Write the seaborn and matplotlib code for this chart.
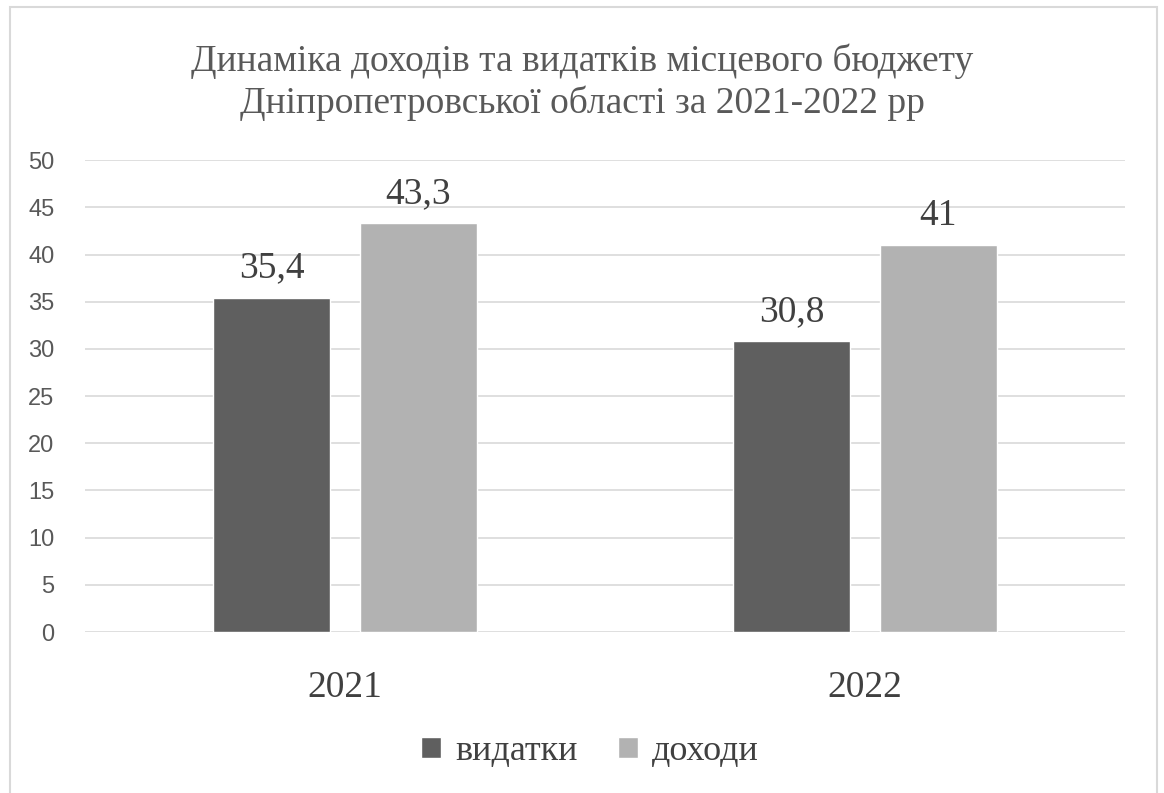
import numpy as np
import pandas as pd
import matplotlib
matplotlib.use("Agg")
import matplotlib.pyplot as plt
import seaborn as sns
from matplotlib.patches import Rectangle

# data
years = ["2021", "2022"]
vydatky = [35.4, 30.8]
dokhody = [43.3, 41.0]
series = ["видатки", "доходи"]

df = pd.DataFrame({
    "year": years * 2,
    "value": vydatky + dokhody,
    "series": [series[0]] * len(years) + [series[1]] * len(years),
})

sns.set_theme(style="white")
plt.rcParams["font.family"] = ["Liberation Serif", "DejaVu Serif"]

fig = plt.figure(figsize=(11.64, 7.93), dpi=100)
ax = fig.add_axes([0.073, 0.203, 0.8935, 0.595])

sns.barplot(data=df, x="year", y="value", hue="series",
            palette=["#5f5f5f", "#b2b2b2"], width=0.565, gap=0.2,
            saturation=1, ax=ax, legend=True)

ax.set_ylim(0, 50)
ax.set_yticks(np.arange(0, 51, 5))
ax.set_xlim(-0.5, 1.5)
ax.grid(axis="y", color="#d9d9d9", linewidth=1.2)
ax.set_axisbelow(True)
for s in ax.spines.values():
    s.set_visible(False)
ax.set_xlabel("")
ax.set_ylabel("")
ax.tick_params(axis="y", length=0, pad=22, labelcolor="#595959", labelsize=17)
ax.tick_params(axis="x", length=0, pad=28, labelcolor="#404040", labelsize=27)
for lab in ax.get_yticklabels():
    lab.set_fontfamily("Liberation Sans")

def fmt(v):
    return ("%g" % v).replace(".", ",")

for cont in ax.containers:
    ax.bar_label(cont, labels=[fmt(v) for v in cont.datavalues],
                 padding=9, fontsize=27, color="#404040")

ax.legend_.remove()
handles, labels = ax.get_legend_handles_labels()
fig.legend(handles, labels, loc="center", bbox_to_anchor=(0.507, 0.052),
           ncol=2, frameon=False, fontsize=26, labelcolor="#404040",
           handlelength=0.55, handleheight=0.55, handletextpad=0.4,
           columnspacing=1.1)

fig.suptitle("Динаміка доходів та видатків місцевого бюджету\n"
             "Дніпропетровської області за 2021-2022 рр",
             x=0.5, y=0.945, fontsize=27, color="#595959", va="top",
             linespacing=1.25)

fig.patches.append(Rectangle((10 / 1164, -0.05), 1147 / 1164, 1.05 - 7 / 793,
                             transform=fig.transFigure, fill=False,
                             edgecolor="#d9d9d9", linewidth=1.5))

fig.savefig("out.png", dpi=100)
